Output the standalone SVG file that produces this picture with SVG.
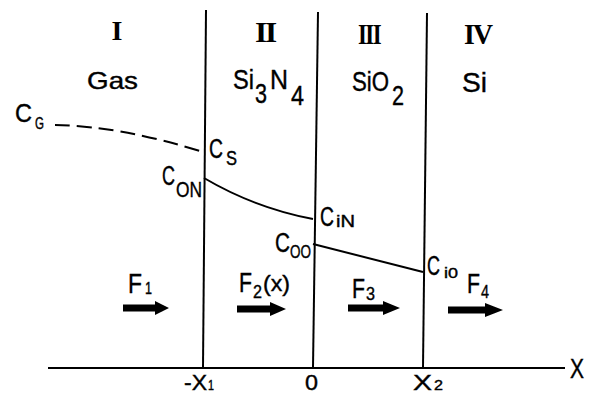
<svg xmlns="http://www.w3.org/2000/svg" width="589" height="395" viewBox="0 0 589 395">
<style>
.t{font-family:"Liberation Sans","DejaVu Sans",sans-serif;fill:#000;stroke:#000;stroke-width:0.4}
.r{font-family:"Liberation Serif","DejaVu Serif",serif;fill:#000;font-weight:bold}
.ln{stroke:#000;stroke-width:2;fill:none}
.ax{stroke:#000;stroke-width:2.2;fill:none}
.dash{stroke:#000;stroke-width:2;fill:none;stroke-dasharray:15 7}
.arr{fill:#000}
</style>
<rect width="589" height="395" fill="#fff"/>
<g id="connectors">
<path class="ax" d="M48,368 L565,368"/>
<path class="ln" d="M206,10 L203,368"/>
<path class="ln" d="M318,12 L313,368"/>
<path class="ln" d="M427,13 L423,368"/>
<path class="dash" d="M55,125 Q120,126 203,152"/>
<path class="ln" d="M204,178 Q255,208 313,219"/>
<path class="ln" d="M313,244 L423,272"/>
</g>
<g id="region-I">
<text class="r" font-size="28" x="117" y="40" text-anchor="middle">I</text>
<text class="t" font-size="24" x="87" y="89" textLength="51" lengthAdjust="spacingAndGlyphs">Gas</text>
</g>
<g id="region-II">
<text class="r" font-size="29" x="255" y="42" textLength="20" lengthAdjust="spacingAndGlyphs" letter-spacing="-2">II</text>
<text class="t" font-size="28"><tspan x="233" y="89" textLength="21" lengthAdjust="spacingAndGlyphs">Si</tspan><tspan x="255" y="103" textLength="12" lengthAdjust="spacingAndGlyphs">3</tspan><tspan x="270" y="89" textLength="18" lengthAdjust="spacingAndGlyphs">N</tspan><tspan x="291" y="105" textLength="13" lengthAdjust="spacingAndGlyphs">4</tspan></text>
</g>
<g id="region-III">
<text class="r" font-size="29" x="358" y="44" textLength="22" lengthAdjust="spacingAndGlyphs" letter-spacing="-2">III</text>
<text class="t" font-size="28"><tspan x="352" y="91" textLength="37" lengthAdjust="spacingAndGlyphs">SiO</tspan><tspan x="392" y="105" textLength="12" lengthAdjust="spacingAndGlyphs">2</tspan></text>
</g>
<g id="region-IV">
<text class="r" font-size="29" x="464" y="44" textLength="27" lengthAdjust="spacingAndGlyphs" letter-spacing="-2">IV</text>
<text class="t" font-size="28" x="462" y="92" textLength="25" lengthAdjust="spacingAndGlyphs">Si</text>
</g>
<g id="label-CG">
<text class="t" font-size="25"><tspan x="15" y="122" textLength="17" lengthAdjust="spacingAndGlyphs">C</tspan><tspan x="35" y="129" font-size="16" textLength="9" lengthAdjust="spacingAndGlyphs">G</tspan></text>
</g>
<g id="label-CS">
<text class="t" font-size="27"><tspan x="209" y="158" textLength="14" lengthAdjust="spacingAndGlyphs">C</tspan><tspan x="226" y="165" font-size="20" textLength="11" lengthAdjust="spacingAndGlyphs">S</tspan></text>
</g>
<g id="label-CON">
<text class="t" font-size="27"><tspan x="162" y="185" textLength="13" lengthAdjust="spacingAndGlyphs">C</tspan><tspan x="176" y="197" font-size="22" textLength="26" lengthAdjust="spacingAndGlyphs">ON</tspan></text>
</g>
<g id="label-CiN">
<text class="t" font-size="27"><tspan x="320" y="226" textLength="14" lengthAdjust="spacingAndGlyphs">C</tspan><tspan x="336" y="227" font-size="17" textLength="19" lengthAdjust="spacingAndGlyphs">iN</tspan></text>
</g>
<g id="label-COO">
<text class="t" font-size="27"><tspan x="275" y="252" textLength="15" lengthAdjust="spacingAndGlyphs">C</tspan><tspan x="290" y="258" font-size="18" textLength="21" lengthAdjust="spacingAndGlyphs">OO</tspan></text>
</g>
<g id="label-Ci0">
<text class="t" font-size="27"><tspan x="427" y="275" textLength="13" lengthAdjust="spacingAndGlyphs">C</tspan><tspan x="444" y="278" font-size="15" textLength="14" lengthAdjust="spacingAndGlyphs">i0</tspan></text>
</g>
<g id="flux-F1">
<text class="t" font-size="27"><tspan x="128" y="293" textLength="14" lengthAdjust="spacingAndGlyphs">F</tspan><tspan x="145" y="294" font-size="17" textLength="7" lengthAdjust="spacingAndGlyphs">1</tspan></text>
<polygon class="arr" points="123,304.5 155,304.5 155,301 169,308 155,315 155,311.5 123,311.5"/>
</g>
<g id="flux-F2">
<text class="t" font-size="27"><tspan x="239" y="292" textLength="13" lengthAdjust="spacingAndGlyphs">F</tspan><tspan x="253" y="298" font-size="19" textLength="9" lengthAdjust="spacingAndGlyphs">2</tspan><tspan x="263" y="291" font-size="22" textLength="27" lengthAdjust="spacingAndGlyphs">(x)</tspan></text>
<polygon class="arr" points="237,305.5 270,305.5 270,302 286,309 270,316 270,312.5 237,312.5"/>
</g>
<g id="flux-F3">
<text class="t" font-size="27"><tspan x="352" y="298" textLength="13" lengthAdjust="spacingAndGlyphs">F</tspan><tspan x="366" y="300" font-size="19" textLength="9" lengthAdjust="spacingAndGlyphs">3</tspan></text>
<polygon class="arr" points="348,304.5 383,304.5 383,301 400,308 383,315 383,311.5 348,311.5"/>
</g>
<g id="flux-F4">
<text class="t" font-size="27"><tspan x="467" y="293" textLength="13" lengthAdjust="spacingAndGlyphs">F</tspan><tspan x="481" y="298" font-size="19" textLength="8" lengthAdjust="spacingAndGlyphs">4</tspan></text>
<polygon class="arr" points="448,306.5 485,306.5 485,303 503,310 485,317 485,313.5 448,313.5"/>
</g>
<g id="axis-labels">
<text class="t" font-size="28" x="570" y="378" textLength="14" lengthAdjust="spacingAndGlyphs">X</text>
<text class="t" font-size="22"><tspan x="184" y="390" textLength="23" lengthAdjust="spacingAndGlyphs">-X</tspan><tspan x="208" y="390" font-size="14" textLength="6" lengthAdjust="spacingAndGlyphs">1</tspan></text>
<text class="t" font-size="22" x="305" y="390" textLength="13" lengthAdjust="spacingAndGlyphs">0</text>
<text class="t" font-size="22"><tspan x="413" y="390" textLength="19" lengthAdjust="spacingAndGlyphs">X</tspan><tspan x="434" y="390" font-size="14" textLength="9" lengthAdjust="spacingAndGlyphs">2</tspan></text>
</g>
</svg>
